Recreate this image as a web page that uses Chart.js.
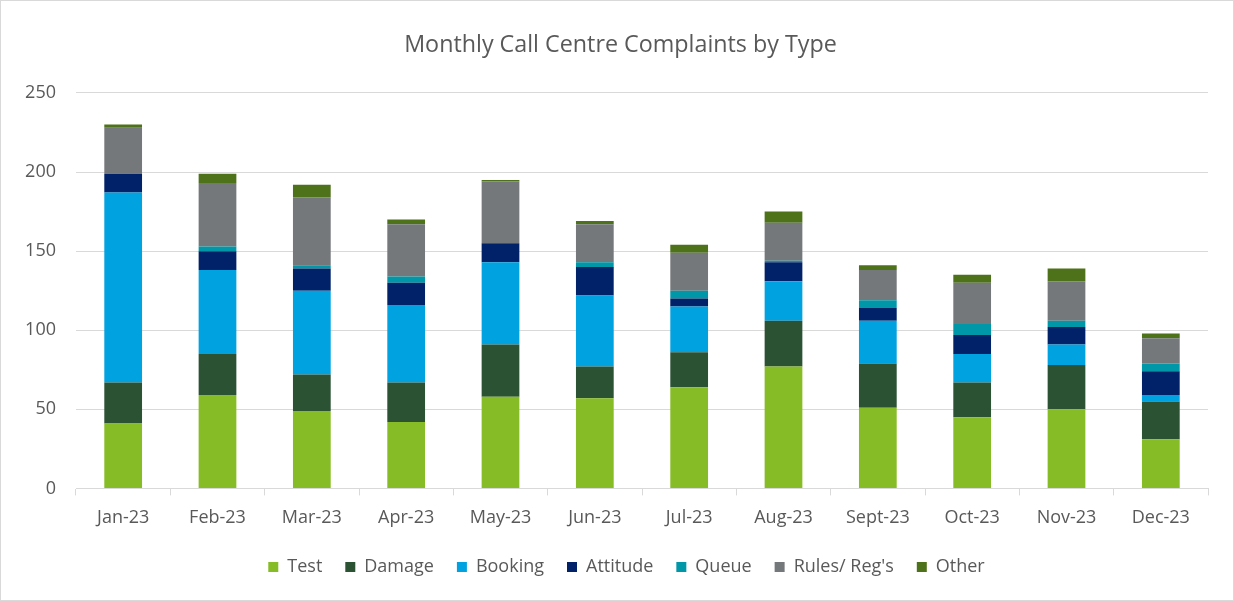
<!DOCTYPE html>
<html>
<head>
<meta charset="utf-8">
<title>Monthly Call Centre Complaints by Type</title>
<script src="https://cdn.jsdelivr.net/npm/chart.js@4.4.0/dist/chart.umd.min.js"></script>
<style>
    html, body { margin: 0; padding: 0; background: #fff; }
    #wrap { width: 1234px; height: 601px; box-sizing: border-box; border: 1px solid #d9d9d9; }
</style>
</head>
<body>
<div id="wrap"><canvas id="chart" width="1232" height="599"></canvas></div>
<script>
// data
const months = ['Jan-23', 'Feb-23', 'Mar-23', 'Apr-23', 'May-23', 'Jun-23', 'Jul-23', 'Aug-23', 'Sept-23', 'Oct-23', 'Nov-23', 'Dec-23'];
const test     = [41, 59, 49, 42, 58, 57, 64, 77, 51, 45, 50, 31];
const damage   = [26, 26, 23, 25, 33, 20, 22, 29, 28, 22, 28, 24];
const booking  = [120, 53, 53, 49, 52, 45, 29, 25, 27, 18, 13, 4];
const attitude = [12, 12, 14, 14, 12, 18, 5, 12, 8, 12, 11, 15];
const queue    = [0, 3, 2, 4, 0, 3, 5, 1, 5, 7, 4, 5];
const rules    = [29, 40, 43, 33, 39, 24, 24, 24, 19, 26, 25, 16];
const other    = [2, 6, 8, 3, 1, 2, 5, 7, 3, 5, 8, 3];
const yTicks   = [0, 50, 100, 150, 200, 250];

Chart.defaults.font.family = "'Open Sans', 'Liberation Sans', sans-serif";
Chart.defaults.color = '#595959';

function series(label, data, color) {
    return {
        label: label,
        data: data,
        backgroundColor: color,
        borderWidth: 0,
        barPercentage: 0.4,
        categoryPercentage: 1
    };
}

// title and legend sit a little right of the canvas centre in the original
const nudge = {
    id: 'nudge',
    afterLayout: function (chart) {
        chart.titleBlock.left += 5;
        chart.titleBlock.right += 5;
        chart.legend.left += 11;
        chart.legend.right += 11;
    }
};

let ctx = document.getElementById('chart').getContext('2d');

new Chart(ctx, {
    type: 'bar',
    data: {
        labels: months,
        datasets: [
            series('Test', test, '#86bc25'),
            series('Damage', damage, '#2c5234'),
            series('Booking', booking, '#00a3e0'),
            series('Attitude', attitude, '#012169'),
            series('Queue', queue, '#0097a9'),
            series("Rules/ Reg's", rules, '#75787b'),
            series('Other', other, '#4e7219')
        ]
    },
    plugins: [nudge],
    options: {
        responsive: false,
        animation: false,
        layout: { padding: { top: 12, left: 22, right: 25, bottom: 14 } },
        plugins: {
            title: {
                display: true,
                text: 'Monthly Call Centre Complaints by Type',
                font: { size: 23.3, weight: 'normal' },
                color: '#595959',
                padding: { top: 18, bottom: 34 }
            },
            legend: {
                position: 'bottom',
                labels: {
                    boxWidth: 10,
                    boxHeight: 10,
                    padding: 23,
                    font: { size: 18 },
                    color: '#595959'
                }
            },
            tooltip: { enabled: false }
        },
        scales: {
            x: {
                stacked: true,
                afterFit: function (axis) {
                    axis.height -= 6;
                },
                grid: { offset: true, drawOnChartArea: false, tickLength: 7, color: '#d9d9d9' },
                border: { color: '#d9d9d9' },
                ticks: { font: { size: 18 }, padding: 12, maxRotation: 0 }
            },
            y: {
                stacked: true,
                min: 0,
                max: 250,
                afterBuildTicks: function (axis) {
                    axis.ticks = yTicks.map(v => ({ value: v }));
                },
                afterFit: function (axis) {
                    axis.width = 53;
                },
                grid: { color: '#d9d9d9', drawTicks: false },
                border: { display: false },
                ticks: { font: { size: 18 }, padding: 20 }
            }
        }
    }
});
</script>
</body>
</html>
